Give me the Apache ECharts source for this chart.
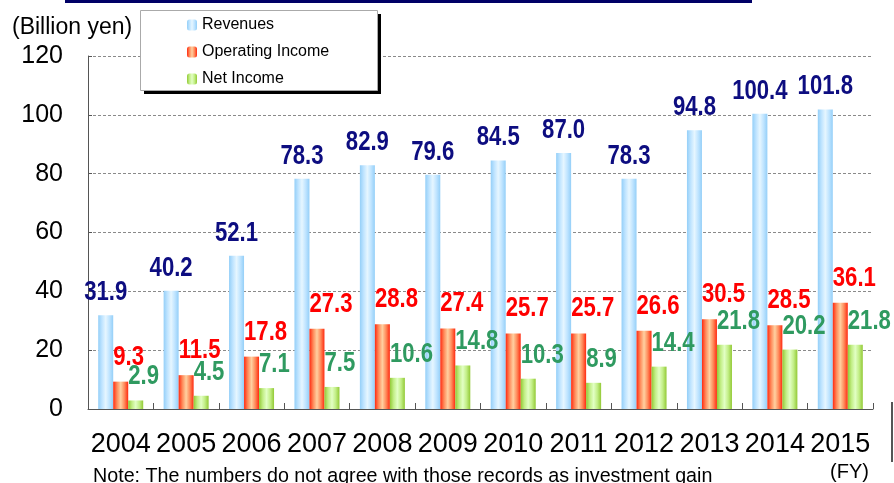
<!DOCTYPE html>
<html>
<head>
<meta charset="utf-8">
<style>
  html, body { margin: 0; padding: 0; background: #fff; }
  #chart { width: 894px; height: 483px; }
</style>
<script src="https://cdn.jsdelivr.net/npm/echarts@6/dist/echarts.min.js"></script>
</head>
<body>
<div id="chart"></div>
<script>
// Fiscal years and results (billion yen)
const years = ['2004', '2005', '2006', '2007', '2008', '2009', '2010', '2011', '2012', '2013', '2014', '2015'];
const revenues = [31.9, 40.2, 52.1, 78.3, 82.9, 79.6, 84.5, 87.0, 78.3, 94.8, 100.4, 101.8];
const operatingIncome = [9.3, 11.5, 17.8, 27.3, 28.8, 27.4, 25.7, 25.7, 26.6, 30.5, 28.5, 36.1];
const netIncome = [2.9, 4.5, 7.1, 7.5, 10.6, 14.8, 10.3, 8.9, 14.4, 21.8, 20.2, 21.8];
const seriesNames = ['Revenues', 'Operating Income', 'Net Income'];

const FONT = '"Liberation Sans", Arial, sans-serif';
const BAR_W = 15;

// Cylinder-like horizontal shading for each bar series
function shade(edge, mid, center) {
  return new echarts.graphic.LinearGradient(0, 0, 1, 0, [
    { offset: 0, color: edge },
    { offset: 0.25, color: mid },
    { offset: 0.5, color: center },
    { offset: 0.75, color: mid },
    { offset: 1, color: edge }
  ]);
}

// Value captions drawn as condensed bold text above each bar.
// dx shifts from the category centre to the bar (three 15px bars, no gap).
function captionSeries(id, values, dx, color, align, dist) {
  return {
    id: id,
    type: 'custom',
    silent: true,
    z: 5,
    data: values.map((v, i) => [i, v]),
    encode: { x: 0, y: 1 },
    renderItem: (params, api) => {
      const v = api.value(1);
      const p = api.coord([api.value(0), v]);
      return {
        type: 'text',
        x: p[0] + dx,
        y: p[1] - dist,
        scaleX: 0.82,
        style: {
          text: v.toFixed(1),
          font: 'bold 27px ' + FONT,
          fill: color,
          align: align,
          verticalAlign: 'bottom'
        }
      };
    }
  };
}

const chart = echarts.init(document.getElementById('chart'), null, { renderer: 'canvas' });

chart.setOption({
  animation: false,
  backgroundColor: '#ffffff',
  grid: { left: 88, right: 21, top: 56, bottom: 74, containLabel: false },
  legend: {
    orient: 'vertical',
    left: 140,
    top: 10,
    padding: [7, 49, 5, 47],
    itemWidth: 10,
    itemHeight: 11,
    itemGap: 11,
    z: 6,
    textStyle: { fontFamily: FONT, fontSize: 16, color: '#000', lineHeight: 16 },
    data: seriesNames
  },
  xAxis: {
    type: 'category',
    data: years,
    axisLine: { lineStyle: { color: '#555', width: 1 } },
    axisTick: { show: true, inside: true, length: 6, lineStyle: { color: '#555' } },
    axisLabel: { interval: 0, fontFamily: FONT, fontSize: 27, color: '#000', margin: 22 }
  },
  yAxis: {
    type: 'value',
    min: 0,
    max: 120,
    interval: 20,
    axisLine: { show: true, lineStyle: { color: '#555', width: 1 } },
    axisTick: { show: true, inside: true, length: 4, lineStyle: { color: '#555' } },
    axisLabel: { fontFamily: FONT, fontSize: 25, color: '#000', margin: 25 },
    splitLine: { show: true, lineStyle: { color: '#8a8a8a', type: [3, 2], width: 1 } }
  },
  series: [
    {
      name: seriesNames[0],
      type: 'bar',
      data: revenues,
      barWidth: BAR_W,
      barGap: '0%',
      itemStyle: { color: shade('#94cff8', '#bfe4ff', '#e6f6ff') }
    },
    {
      name: seriesNames[1],
      type: 'bar',
      data: operatingIncome,
      barWidth: BAR_W,
      barGap: '0%',
      itemStyle: { color: shade('#ff2a10', '#ff8a5a', '#ffd0a0') }
    },
    {
      name: seriesNames[2],
      type: 'bar',
      data: netIncome,
      barWidth: BAR_W,
      barGap: '0%',
      itemStyle: { color: shade('#92c935', '#c2ee86', '#e2ffc4') }
    },
    captionSeries('revCaption', revenues, -BAR_W, '#0d0d80', 'center', 9),
    captionSeries('opCaption', operatingIncome, -BAR_W / 2, '#ff0000', 'left', 11),
    captionSeries('netCaption', netIncome, BAR_W / 2, '#2f9a60', 'left', 10)
  ],
  graphic: [
    // header rule
    { type: 'rect', left: 65, top: 0, shape: { width: 687, height: 3 }, style: { fill: '#000066' }, z: 10 },
    // legend frame with solid drop shadow
    { type: 'rect', left: 144, top: 14, shape: { width: 237, height: 80 }, style: { fill: '#000' }, z: 3 },
    { type: 'rect', left: 140, top: 10, shape: { width: 237, height: 80 }, style: { fill: '#fff', stroke: '#aaa', lineWidth: 1 }, z: 4 },
    // unit caption
    { type: 'text', left: 12, top: 16, style: { text: '(Billion yen)', font: '23px ' + FONT, fill: '#000' }, z: 10 },
    // fiscal-year marker
    { type: 'text', left: 830, top: 462, style: { text: '(FY)', font: '20px ' + FONT, fill: '#000' }, z: 10 },
    // footnote
    { type: 'text', left: 93, top: 467, style: { text: 'Note: The numbers do not agree with those records as investment gain', font: '19.7px ' + FONT, fill: '#000' }, z: 10 },
    // right edge rule
    { type: 'rect', left: 891, top: 402, shape: { width: 2, height: 60 }, style: { fill: '#555' }, z: 10 }
  ]
});
</script>
</body>
</html>
